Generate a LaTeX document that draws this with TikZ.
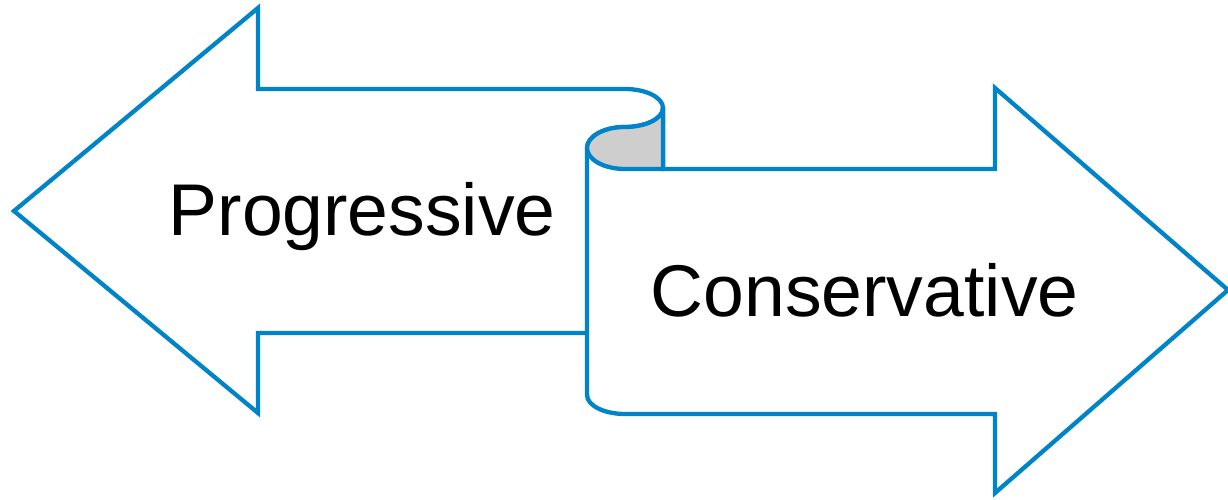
\documentclass[tikz,border=0pt]{standalone}
\usepackage{fontspec}
\setmainfont{Liberation Sans}
\usepackage{tikz}
\definecolor{arrowblue}{RGB}{0,132,201}
\definecolor{rollgray}{RGB}{206,206,206}
\tikzset{
  arrowline/.style={draw=arrowblue, line width=4.3pt, fill=white},
  rollface/.style={draw=arrowblue, line width=4.3pt, fill=rollgray},
  arrowtext/.style={inner sep=0pt, anchor=base west, font=\fontsize{73.3}{80}\selectfont}
}

\begin{document}
\begin{tikzpicture}[x=1pt,y=1pt]
\useasboundingbox (0,0) rectangle (1228,500);
% left arrow
\draw[arrowline] (587,167)--(258,167)--(258,87)--(14,289)--(258,492)--(258,411)--(625,411)
  arc[start angle=90, end angle=0, x radius=38, y radius=19]--(663,331);
% right arrow with curl
\draw[arrowline] (587,352)--(587,105)
  arc[start angle=180, end angle=270, x radius=38, y radius=19]
  --(995,86)--(995,7)--(1228,210)--(995,412)--(995,331)--(663,331)--(663,392)
  arc[start angle=0, end angle=-90, x radius=38, y radius=19]
  arc[start angle=90, end angle=180, x radius=38, y radius=21]--cycle;
% rolled part
\draw[rollface] (663,392)
  arc[start angle=0, end angle=-90, x radius=38, y radius=19]
  arc[start angle=90, end angle=180, x radius=38, y radius=21]
  arc[start angle=180, end angle=270, x radius=38, y radius=21]
  --(663,331)--cycle;

\node[arrowtext] (prog) at (168.5,264) {Progressive};
\node[arrowtext] (cons) at (650.5,183) {Conservative};
\end{tikzpicture}
\end{document}
